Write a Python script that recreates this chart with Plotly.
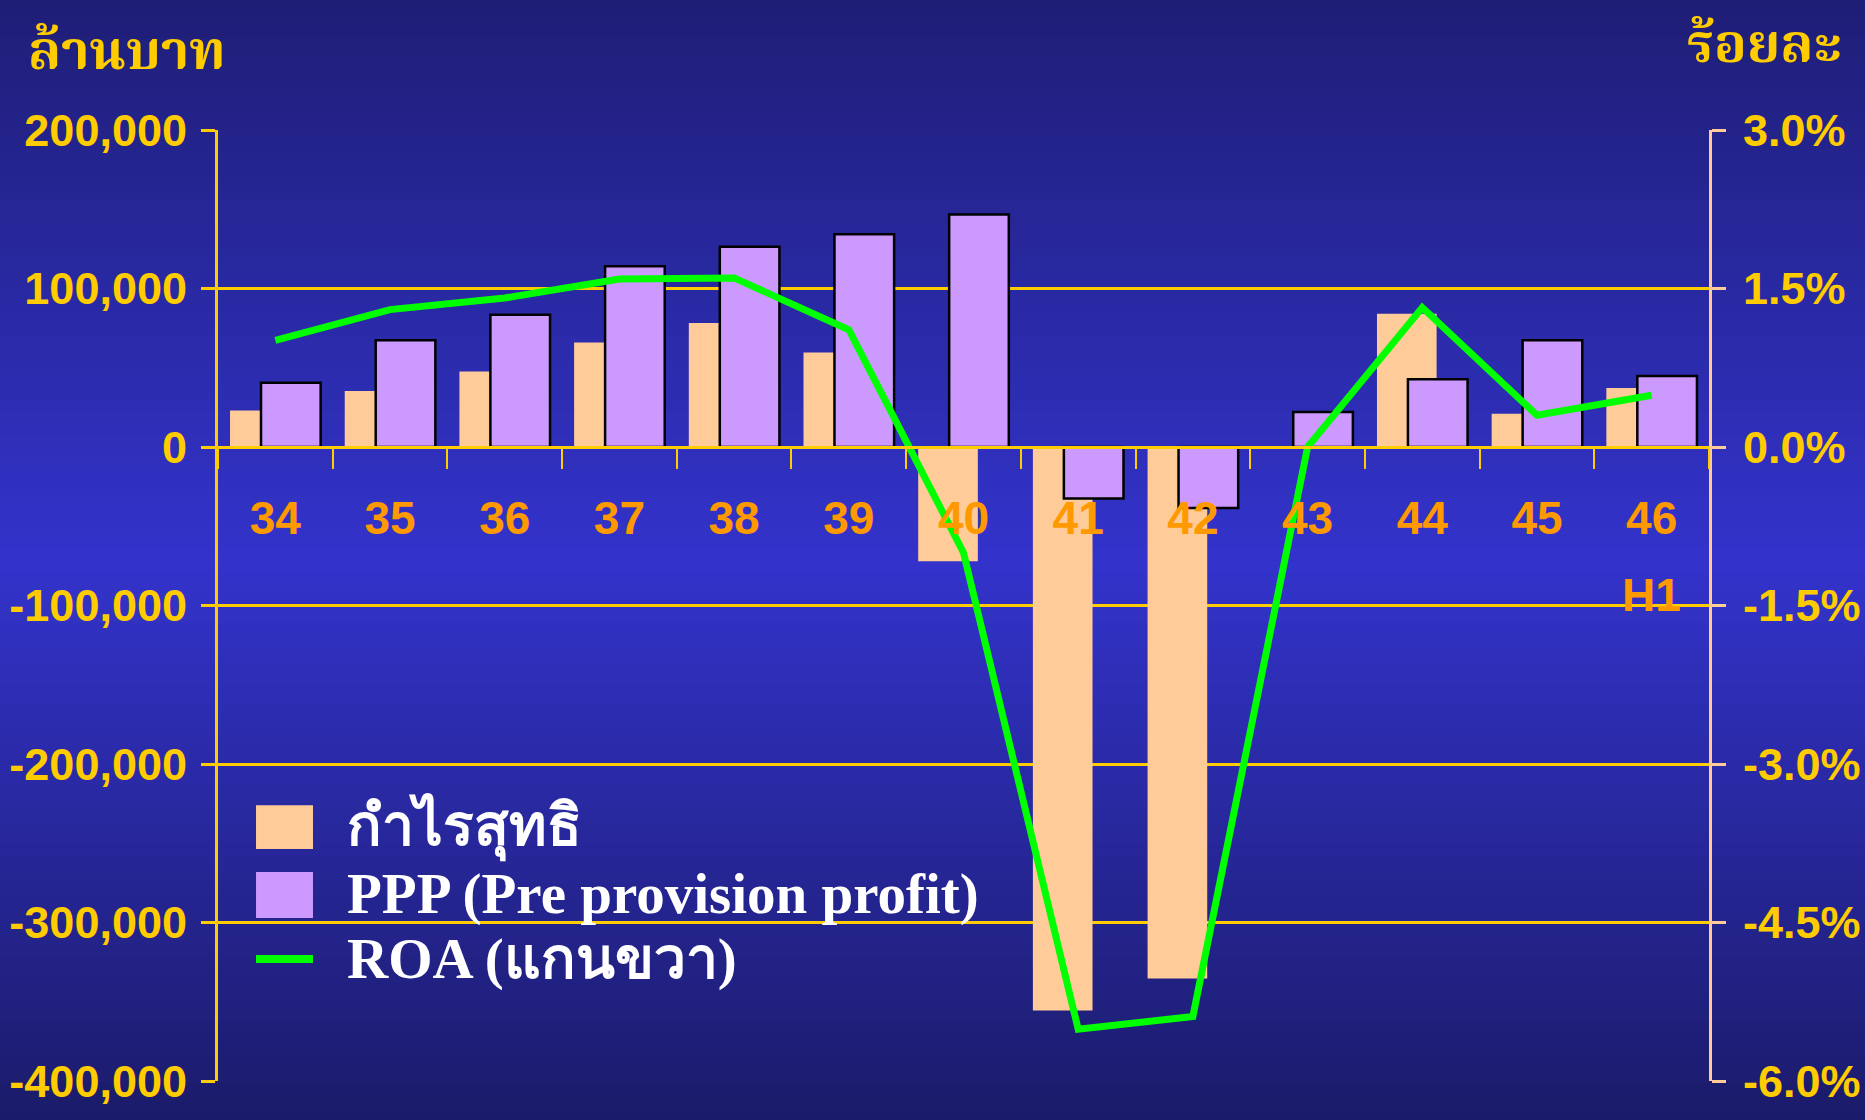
import plotly.graph_objects as go

# datos
ANIOS = ["34", "35", "36", "37", "38", "39", "40", "41", "42", "43", "44", "45", "46"]
GANANCIA_NETA = [23100, 35300, 47700, 66000, 78200, 59700, -72100, -355500, -335300, 0, 84100, 21000, 37200]
PPP = [40600, 67300, 83500, 114100, 126300, 134300, 146700, -32500, -38500, 22100, 42700, 67300, 44800]
ROA = [1.01, 1.30, 1.41, 1.59, 1.60, 1.11, -1.00, -5.51, -5.39, 0.00, 1.32, 0.30, 0.49]

TICKS_IZQ = [-400000, -300000, -200000, -100000, 0, 100000, 200000]
TEXTO_IZQ = ["-400,000", "-300,000", "-200,000", "-100,000", "0", "100,000", "200,000"]
TICKS_DER = [-6.0, -4.5, -3.0, -1.5, 0.0, 1.5, 3.0]
TEXTO_DER = ["-6.0%", "-4.5%", "-3.0%", "-1.5%", "0.0%", "1.5%", "3.0%"]

NOMBRES = ["กำไรสุทธิ", "PPP (Pre provision profit)", "ROA (แกนขวา)"]

DORADO = "#FFCC00"
NARANJA = "#FF9900"
DURAZNO = "#FFCC99"
LILA = "#CC99FF"
VERDE = "#00FF00"
SANS = "Liberation Sans, Arial, sans-serif"
SERIF = "Liberation Serif, Times New Roman, serif"
THAI = "Norasi, Kinnari, Laksaman, Noto Serif Thai, Loma, Garuda, serif"

fig = go.Figure()
fig.add_trace(go.Bar(x=ANIOS, y=GANANCIA_NETA, name=NOMBRES[0], marker=dict(color=DURAZNO, line=dict(width=0)),
                     width=0.52, offset=-0.395, showlegend=False))
fig.add_trace(go.Bar(x=ANIOS, y=PPP, name=NOMBRES[1], marker=dict(color=LILA, line=dict(color="black", width=2.5)),
                     width=0.52, offset=-0.125, showlegend=False))
fig.add_trace(go.Scatter(x=ANIOS, y=ROA, name=NOMBRES[2], yaxis="y2", mode="lines",
                         line=dict(color=VERDE, width=7), showlegend=False))

# fondo degradado (bandas)
def mezcla(c1, c2, t):
    return tuple(round(a + (b - a) * t) for a, b in zip(c1, c2))

paradas = [(0.0, (30, 30, 118)), (0.5, (51, 51, 204)), (1.0, (27, 27, 106))]
H = 1120
n = 90
formas = []
for i in range(n):
    t = (i + 0.5) / n
    for (t0, c0), (t1, c1) in zip(paradas[:-1], paradas[1:]):
        if t0 <= t <= t1:
            c = mezcla(c0, c1, (t - t0) / (t1 - t0))
    y_top = i * H / n
    y_bot = (i + 1) * H / n + 1
    # pixel -> paper (area de trazado 129.6..1081)
    formas.append(dict(type="rect", xref="paper", yref="paper", layer="below",
                       x0=-0.5, x1=1.5, y0=(1081 - y_bot) / 951.4, y1=(1081 - y_top) / 951.4,
                       fillcolor="rgb(%d,%d,%d)" % c, line=dict(width=0)))

# leyenda manual
formas.append(dict(type="rect", xref="paper", yref="paper", x0=0.0255, x1=0.0637, y0=0.244, y1=0.290,
                   fillcolor=DURAZNO, line=dict(width=0)))
formas.append(dict(type="rect", xref="paper", yref="paper", x0=0.0255, x1=0.0637, y0=0.1713, y1=0.2197,
                   fillcolor=LILA, line=dict(width=0)))
formas.append(dict(type="rect", xref="paper", yref="paper", x0=0.0255, x1=0.0637, y0=0.124, y1=0.1324,
                   fillcolor=VERDE, line=dict(width=0)))

anotaciones = []
for txt, yy in zip(NOMBRES, [0.267, 0.1966, 0.128]):
    anotaciones.append(dict(text="<b>" + txt + "</b>", xref="paper", yref="paper", x=0.0852, y=yy,
                            xanchor="left", yanchor="middle", showarrow=False,
                            font=dict(family=SERIF, size=57, color="white")))
anotaciones.append(dict(text="<b>ล้านบาท</b>", xref="paper", yref="paper", x=-0.1288, y=1.0784,
                        xanchor="left", yanchor="middle", showarrow=False,
                        font=dict(family=THAI, size=54, color=DORADO)))
anotaciones.append(dict(text="<b>ร้อยละ</b>", xref="paper", yref="paper", x=1.0899, y=1.086,
                        xanchor="right", yanchor="middle", showarrow=False,
                        font=dict(family=THAI, size=54, color=DORADO)))
# "H1" bajo el 46 (x como indice de categoria)
anotaciones.append(dict(text="<b>H1</b>", xref="x", yref="paper", x=len(ANIOS) - 1, y=0.5108,
                        xanchor="center", yanchor="middle", showarrow=False,
                        font=dict(family=SANS, size=46, color=NARANJA)))

fig.update_layout(
    width=1865, height=1120,
    margin=dict(l=218, r=156, t=130, b=39),
    paper_bgcolor="#1E1E76", plot_bgcolor="rgba(0,0,0,0)",
    barmode="overlay",
    shapes=formas, annotations=anotaciones,
    xaxis=dict(type="category", categoryorder="array", categoryarray=ANIOS,
               range=[-0.5, len(ANIOS) - 0.5],
               tickvals=ANIOS, ticktext=ANIOS, tickson="boundaries",
               anchor="free", position=400000 / 600000,
               showline=True, linecolor=DORADO, linewidth=3,
               ticks="outside", ticklen=20, tickwidth=2, tickcolor=DORADO,
               showgrid=False, zeroline=False, ticklabelstandoff=30, automargin=False,
               tickangle=0,
               tickfont=dict(family=SANS, size=46, color=NARANJA, weight="bold")),
    yaxis=dict(range=[-400000, 200000], tickvals=TICKS_IZQ, ticktext=TEXTO_IZQ,
               showline=True, linecolor=DORADO, linewidth=3,
               ticks="outside", ticklen=14, tickwidth=3, tickcolor=DORADO,
               showgrid=True, gridcolor=DORADO, gridwidth=2.5, zeroline=False,
               ticklabelstandoff=5, automargin=False,
               tickfont=dict(family=SANS, size=45, color=DORADO, weight="bold")),
    yaxis2=dict(range=[-6, 3], overlaying="y", side="right", tickvals=TICKS_DER, ticktext=TEXTO_DER,
                showline=True, linecolor=DURAZNO, linewidth=3,
                ticks="outside", ticklen=14, tickwidth=3, tickcolor=DURAZNO,
                showgrid=False, zeroline=False, ticklabelstandoff=8, automargin=False,
                tickfont=dict(family=SANS, size=45, color=DORADO, weight="bold")),
)

fig.write_html("out.html", config={"displayModeBar": False},
               post_script="document.body.style.margin='0px';")
